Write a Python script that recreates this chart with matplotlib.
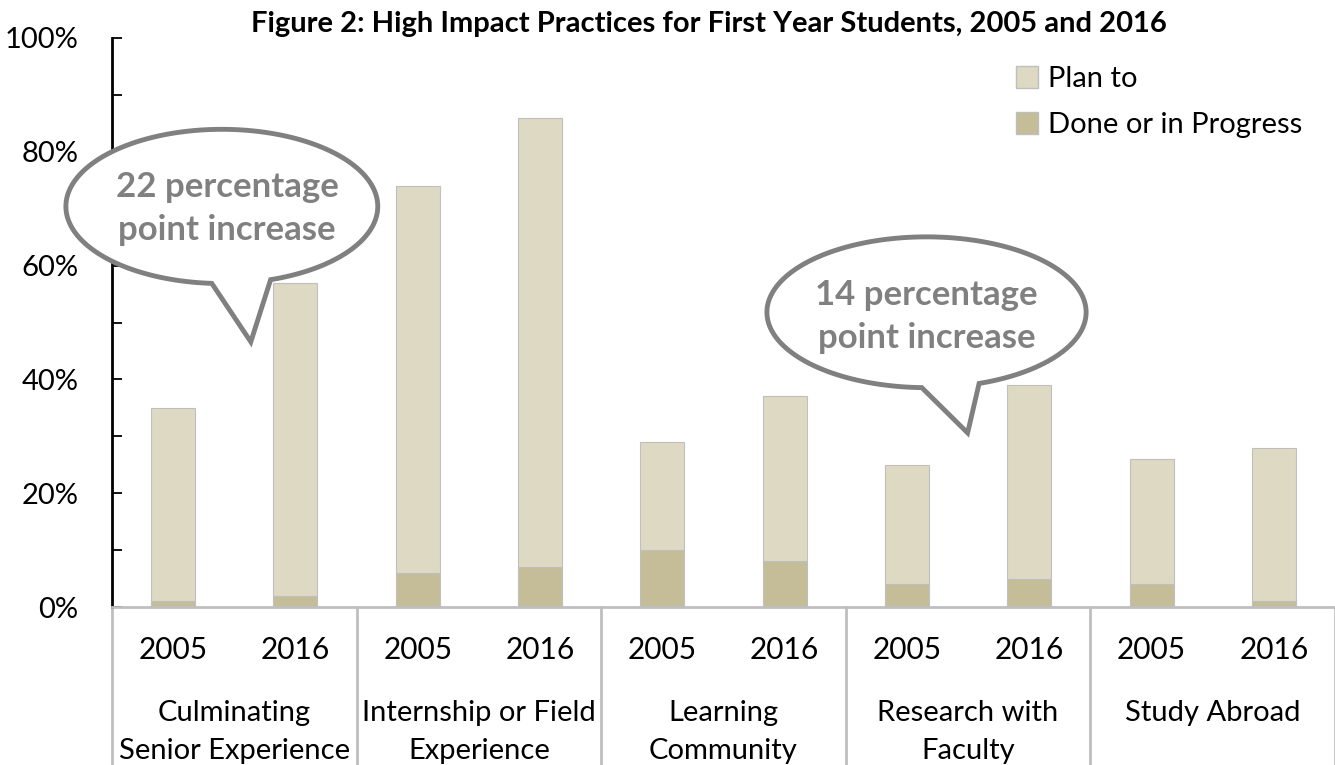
import numpy as np
import matplotlib
matplotlib.use("Agg")
from matplotlib import pyplot as plt
from matplotlib.patches import Patch, Polygon
import matplotlib.transforms as mtrans

plt.rcParams['font.family'] = ['Lato', 'DejaVu Sans']

# data (percent of first year students)
groups = ["Culminating\nSenior Experience", "Internship or Field\nExperience",
          "Learning\nCommunity", "Research with\nFaculty", "Study Abroad"]
years = ["2005", "2016"]
done = [1, 2, 6, 7, 10, 8, 4, 5, 4, 1]
total = [35, 57, 74, 86, 29, 37, 25, 39, 26, 28]
plan = [t - d for t, d in zip(total, done)]

c_plan = "#DDD9C3"
c_done = "#C4BD97"
c_edge = "#BFBFBF"
c_call = "#808080"

fig = plt.figure(figsize=(13.35, 7.65), dpi=100)
ax = fig.add_axes([112/1335, 158/765, 1 - 112/1335, 569/765])

x = np.arange(len(done))
ax.bar(x, done, width=0.36, color=c_done, edgecolor=c_edge, linewidth=0.8,
       label="Done or in Progress")
ax.bar(x, plan, width=0.36, bottom=done, color=c_plan, edgecolor=c_edge,
       linewidth=0.8, label="Plan to")

ax.set_xlim(-0.5, 9.5)
ax.set_ylim(0, 100)
ax.set_yticks(np.arange(0, 101, 20))
ax.set_yticklabels(["%d%%" % v for v in range(0, 101, 20)], fontsize=21)
ax.set_yticks(np.arange(10, 100, 20), minor=True)
ax.tick_params(axis='y', which='both', direction='in', length=7, width=1.3,
               pad=24)
ax.set_xticks([])
for s in ['top', 'right']:
    ax.spines[s].set_visible(False)
ax.spines['left'].set_linewidth(2)
ax.spines['bottom'].set_color(c_edge)
ax.spines['bottom'].set_linewidth(2)

# category table under the axis
trans = mtrans.blended_transform_factory(ax.transData, ax.transAxes)
for b in [-0.5, 1.5, 3.5, 5.5, 7.5, 9.5]:
    ax.plot([b, b], [0, -0.3], color=c_edge, lw=2, transform=trans,
            clip_on=False)
for i in x:
    ax.text(i, -0.075, years[i % 2], transform=trans, ha='center',
            va='center', fontsize=21.5)
for g, name in enumerate(groups):
    ax.text(2*g + 0.5, -0.164, name, transform=trans, ha='center', va='top',
            fontsize=21, linespacing=1.55)

fig.text(709/1335, 1 - 24/765,
         "Figure 2: High Impact Practices for First Year Students, 2005 and 2016",
         ha='center', va='center', fontsize=21, fontweight='bold')

handles = [Patch(facecolor=c_plan, edgecolor=c_edge, label="Plan to"),
           Patch(facecolor=c_done, edgecolor=c_edge, label="Done or in Progress")]
ax.legend(handles=handles, loc='upper left', bbox_to_anchor=(990/1335, 1 - 40/765),
          bbox_transform=fig.transFigure, frameon=False, fontsize=21,
          handlelength=0.75, handleheight=0.75, handletextpad=0.35,
          labelspacing=0.68)


def bubble(cx, cy, w, h, pl, tip, pr, text, tx, ty):
    a, b = w/2, h/2
    tl = np.arctan2((pl[1]-cy)/b, (pl[0]-cx)/a) % (2*np.pi)
    tr = np.arctan2((pr[1]-cy)/b, (pr[0]-cx)/a) % (2*np.pi)
    t = np.linspace(tr, tl + 2*np.pi, 300)
    pts = np.column_stack([cx + a*np.cos(t), cy + b*np.sin(t)])
    pts = np.vstack([pts, [tip]])
    ax.add_patch(Polygon(pts, closed=True, facecolor='white', edgecolor=c_call,
                         lw=3.5, zorder=5, clip_on=False, joinstyle='miter'))
    ax.text(tx, ty, text, ha='center', va='center', fontsize=25,
            fontweight='bold', color=c_call, zorder=6, linespacing=1.42)


bubble(0.398, 70.4, 2.55, 27.1, (0.316, 56.9), (0.635, 46.6), (0.798, 57.5),
       "22 percentage\npoint increase", 0.44, 70.1)
bubble(6.16, 51.8, 2.61, 26.5, (6.12, 38.1), (6.496, 30.6), (6.60, 39.0),
       "14 percentage\npoint increase", 6.16, 51.1)

fig.savefig("out.png", dpi=100)
